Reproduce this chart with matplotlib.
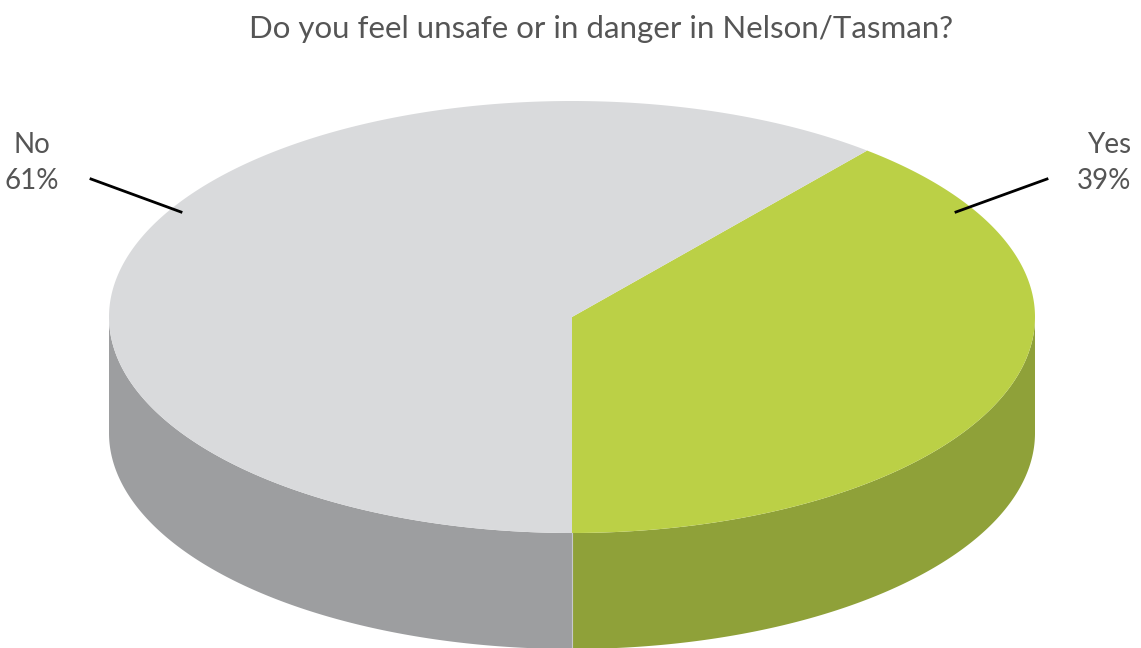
import numpy as np
import matplotlib
matplotlib.use("Agg")
import matplotlib.pyplot as plt
from matplotlib.patches import Polygon

title = "Do you feel unsafe or in danger in Nelson/Tasman?"
labels = ["Yes", "No"]
values = [39, 61]
top_colors = ["#BBD046", "#D9DADC"]
side_colors = ["#8FA139", "#9D9EA0"]
text_color = "#555555"

W, H = 1141, 648
fig = plt.figure(figsize=(W / 100, H / 100), dpi=100)
ax = fig.add_axes([0, 0, 1, 1])
ax.set_xlim(0, W)
ax.set_ylim(H, 0)
ax.axis("off")

cx, cy = 572, 317
a, b = 463, 216
depth = 116

def pt(t_deg, dy=0.0):
    t = np.radians(t_deg)
    return cx + a * np.cos(t), cy - b * np.sin(t) + dy

total = sum(values)
end = -90.0
slices = []
for lab, v in zip(labels, values):
    span = 360.0 * v / total
    slices.append((end, end + span))
    end += span

for (t0, t1), sc in zip(slices, side_colors):
    for off in (-360, 0, 360):
        s0, s1 = max(t0 + off, 180), min(t1 + off, 360)
        if s1 > s0:
            ts = np.linspace(s0, s1, 200)
            top = [pt(t) for t in ts]
            bot = [pt(t, depth) for t in ts[::-1]]
            ax.add_patch(Polygon(top + bot, closed=True, facecolor=sc, edgecolor="none"))
x0, y0 = pt(270)
ax.plot([x0, x0], [y0, y0 + depth], color="#C8C9CB", lw=0.8)

for (t0, t1), tc in zip(slices, top_colors):
    ts = np.linspace(t0, t1, 300)
    verts = [(cx, cy)] + [pt(t) for t in ts]
    ax.add_patch(Polygon(verts, closed=True, facecolor=tc, edgecolor="none"))

ax.text(601, 29, title, ha="center", va="center", fontsize=22.5,
        color=text_color, family=["Lato", "DejaVu Sans"])

ax.text(32, 163, f"{labels[1]}\n{values[1]}%", ha="center", va="center",
        fontsize=20, color=text_color, family=["Lato", "DejaVu Sans"], linespacing=1.5)
ax.plot([91, 181], [179, 212], color="black", lw=2)
ax.text(1131, 163, f"{labels[0]}\n{values[0]}%", ha="right", va="center",
        fontsize=20, color=text_color, family=["Lato", "DejaVu Sans"], linespacing=1.5,
        multialignment="right")
ax.plot([1047, 956], [179, 212], color="black", lw=2)

fig.savefig("out.png", dpi=100)
